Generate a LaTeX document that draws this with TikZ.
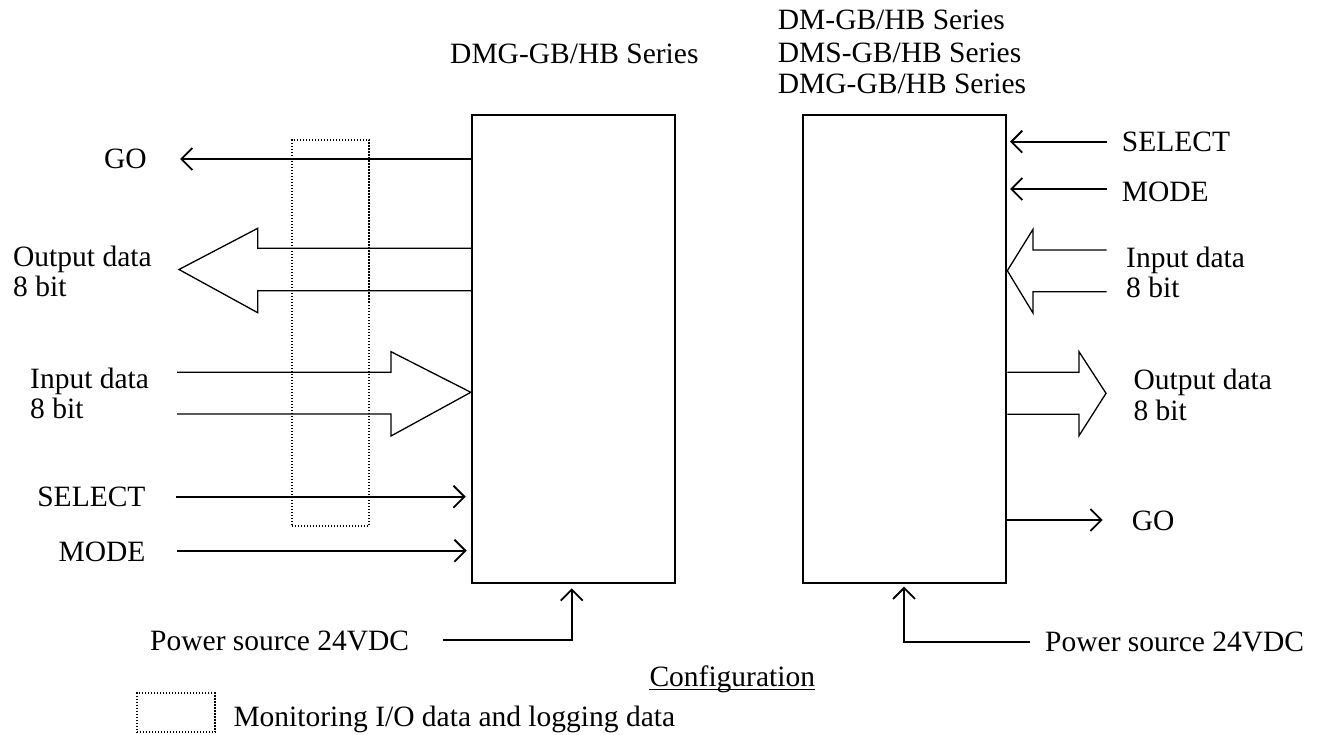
\documentclass[tikz,border=0pt]{standalone}
\usepackage{fontspec}
\setmainfont{Liberation Serif}
\usetikzlibrary{arrows.meta}
\begin{document}
\begin{tikzpicture}[x=1pt,y=-1pt,
  lbl/.style={inner sep=0pt, font=\fontsize{29.5}{33}\selectfont},
  sig/.style={line width=1.8pt, -{Straight Barb[length=11pt,width=22pt]}},
  bus/.style={line width=1.3pt, line join=miter},
  unit/.style={draw, line width=2pt, minimum width=203pt, minimum height=468pt, inner sep=0pt},
  mon/.style={line width=1.8pt, dash pattern=on 1.5pt off 1.5pt}]
\useasboundingbox (0,0) rectangle (1321,735);

% units
\node[unit] (L) at (573.3,349.2) {};
\node[unit] (R) at (904.8,349.2) {};

% titles
\node[lbl, anchor=base west] (tL) at (450,63.3) {DMG-GB/HB Series};
\node[lbl, anchor=base west] (tR1) at (777.7,30) {DM-GB/HB Series};
\node[lbl, anchor=base west] (tR2) at (777.7,62.5) {DMS-GB/HB Series};
\node[lbl, anchor=base west] (tR3) at (777.7,93.5) {DMG-GB/HB Series};

% ---------- left side ----------
% monitoring region
\node[draw, mon, inner sep=0pt, minimum width=77.3pt, minimum height=385.7pt] (monL) at (330.35,332.85) {};

% GO
\node[lbl, anchor=base east] (goLt) at (147,169) {GO};
\coordinate (goL) at (180,159);
\draw[sig] (L.west |- goL) -- (goL);

% Output data bus (left)
\node[lbl, anchor=base west] (outLt1) at (13,266.7) {Output data};
\node[lbl, anchor=base west] (outLt2) at (13,296.7) {8 bit};
\coordinate (oLa) at (257.7,248.3);
\coordinate (oLb) at (257.7,290.7);
\coordinate (oLtip) at (179,269.5);
\draw[bus] (L.west |- oLa) -- (oLa) -- (257.7,228.3) -- (oLtip) -- (257.7,312.7) -- (oLb) -- (L.west |- oLb);

% Input data bus (left)
\node[lbl, anchor=base west] (inLt1) at (30,388) {Input data};
\node[lbl, anchor=base west] (inLt2) at (30,418) {8 bit};
\coordinate (iLa) at (177,372.3);
\coordinate (iLb) at (177,414);
\coordinate (iLtip) at (471.7,392.3);
\draw[bus] (iLa) -- (391,372.3) -- (391,351.7) -- (L.west |- iLtip) -- (391,436) -- (391,414) -- (iLb);

% SELECT / MODE (left)
\node[lbl, anchor=base east] (selLt) at (145.7,506.7) {SELECT};
\coordinate (selL) at (175.7,496.7);
\coordinate (selLe) at (465.7,496.7);
\draw[sig] (selL) -- (selLe);
\node[lbl, anchor=base east] (modLt) at (145.7,561.7) {MODE};
\coordinate (modL) at (176.7,550.7);
\coordinate (modLe) at (466.7,550.7);
\draw[sig] (modL) -- (modLe);

% Power (left)
\node[lbl, anchor=base west] (pwLt) at (150,650) {Power source 24VDC};
\coordinate (pwL) at (443.3,640);
\coordinate (pwLc) at (571.7,640);
\coordinate (pwLe) at (571.7,588.3);
\draw[sig] (pwL) -- (pwLc) -- (pwLe);

% ---------- right side ----------
% SELECT / MODE
\node[lbl, anchor=base west] (selRt) at (1121.7,151.7) {SELECT};
\coordinate (selR) at (1106.7,141.7);
\coordinate (selRe) at (1010,141.7);
\draw[sig] (selR) -- (selRe);
\node[lbl, anchor=base west] (modRt) at (1121.7,201.7) {MODE};
\coordinate (modR) at (1106.7,189);
\coordinate (modRe) at (1010,189);
\draw[sig] (modR) -- (modRe);

% Input data bus (right)
\node[lbl, anchor=base west] (inRt1) at (1126,267.5) {Input data};
\node[lbl, anchor=base west] (inRt2) at (1126,297.5) {8 bit};
\coordinate (iRa) at (1106.7,250);
\coordinate (iRb) at (1106.7,291.7);
\coordinate (iRtip) at (1006.7,270.7);
\draw[bus] (iRa) -- (1033,250) -- (1033,229.3) -- (R.east |- iRtip) -- (1033,313) -- (1033,291.7) -- (iRb);

% Output data bus (right)
\node[lbl, anchor=base west] (outRt1) at (1133.3,389) {Output data};
\node[lbl, anchor=base west] (outRt2) at (1133.3,420.3) {8 bit};
\coordinate (oRa) at (1079,372.3);
\coordinate (oRb) at (1079,414.3);
\coordinate (oRtip) at (1106,393.3);
\draw[bus] (R.east |- oRa) -- (oRa) -- (1079,351.7) -- (oRtip) -- (1079,435.7) -- (oRb) -- (R.east |- oRb);

% GO (right)
\node[lbl, anchor=base west] (goRt) at (1131.7,530.7) {GO};
\coordinate (goR) at (1102.7,520);
\draw[sig] (R.east |- goR) -- (goR);

% Power (right)
\node[lbl, anchor=base west] (pwRt) at (1045,651.7) {Power source 24VDC};
\coordinate (pwR) at (1030,641.7);
\coordinate (pwRc) at (904,641.7);
\coordinate (pwRe) at (904,586.7);
\draw[sig] (pwR) -- (pwRc) -- (pwRe);

% ---------- caption & legend ----------
\node[lbl, anchor=base west] (conf) at (649.3,686) {Configuration};
\draw[line width=1.5pt] ([yshift=-3.5pt]conf.base west) -- ([yshift=-3.5pt]conf.base east);

\node[draw, mon, inner sep=0pt, minimum width=78.3pt, minimum height=39pt] (monKey) at (175.85,712.8) {};
\node[lbl, anchor=base west] (monTxt) at (233.3,726.7) {Monitoring I/O data and logging data};
\end{tikzpicture}
\end{document}
